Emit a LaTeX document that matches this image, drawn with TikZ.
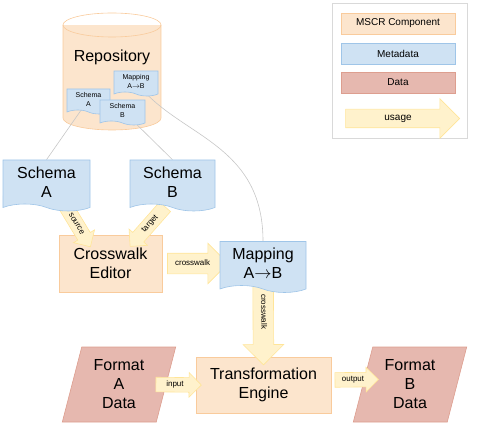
\documentclass[tikz,border=0pt]{standalone}
\usepackage{fontspec}
\setmainfont{Liberation Sans}
\usetikzlibrary{shapes.geometric,shapes.symbols,shapes.arrows,calc}

\definecolor{compfill}{HTML}{FCE5CD}
\definecolor{compdraw}{HTML}{F9CB9C}
\definecolor{metafill}{HTML}{CFE2F3}
\definecolor{metadraw}{HTML}{9FC5E8}
\definecolor{datafill}{HTML}{E6B8AF}
\definecolor{datadraw}{HTML}{DD9E8F}
\definecolor{usefill}{HTML}{FFF2CC}
\definecolor{usedraw}{HTML}{FFE599}

\pgfdeclarelayer{cyl}
\pgfdeclarelayer{links}
\pgfsetlayers{cyl,links,main}

\tikzset{
  comp/.style={rectangle, fill=compfill, draw=compdraw, line width=0.6pt},
  meta/.style={tape, tape bend top=none, tape bend bottom=out and in, fill=metafill, draw=metadraw, line width=0.6pt},
  data/.style={trapezium, trapezium left angle=75, trapezium right angle=105, trapezium stretches=true, fill=datafill, draw=datadraw, line width=0.6pt},
  big/.style={font=\fontsize{16}{19}\selectfont, align=center},
  mini/.style={meta, font=\fontsize{7}{8.5}\selectfont, align=center, minimum height=25pt, tape bend height=4pt, inner sep=1pt},
  legend/.style={rectangle, minimum width=114pt, minimum height=21pt, line width=0.6pt, font=\fontsize{10}{12}\selectfont},
  usage/.style={single arrow, fill=usefill, draw=usedraw, line width=0.6pt, font=\fontsize{8}{9}\selectfont, text height=6pt, text depth=2pt, inner xsep=0pt},
  bigarrow/.style={usage, inner ysep=6pt, single arrow head extend=10pt},
  smallarrow/.style={usage, inner ysep=3pt, single arrow head extend=5pt},
  link/.style={draw=black!22, line width=0.6pt}
}

% tail, tip, label
\newcommand{\blockarrow}[4]{%
  \path let \p1=#2, \p2=#3, \n1={atan2(\y2-\y1,\x2-\x1)}, \n2={veclen(\x2-\x1,\y2-\y1)} in
    node[#1, rotate=\n1, minimum height=\n2] at ($(\p1)!.5!(\p2)$) {#4};}

\begin{document}
\begin{tikzpicture}[x=1pt,y=-1pt]
  \useasboundingbox (0,0) rectangle (478,438);

  % repository
  \begin{pgfonlayer}{cyl}
    \fill[compfill] (63,25) rectangle (161,118);
    \fill[compfill] (112,118) ellipse [x radius=49, y radius=12];
    \draw[compdraw, line width=0.6pt] (63,25) -- (63,118) arc[start angle=180, end angle=0, x radius=49, y radius=12] -- (161,25);
    \draw[compdraw, line width=0.6pt] (112,25) ellipse [x radius=49, y radius=12];
  \end{pgfonlayer}
  \node[big] (repo) at (112,57) {Repository};

  \node[mini, minimum width=43pt] (miniA) at (88.5,99.5) {Schema\\A};
  \node[mini, minimum width=45pt] (miniB) at (122.5,110.5) {Schema\\B};
  \node[mini, minimum width=44pt] (miniM) at (136,81.5) {Mapping\\A$\rightarrow$B};

  % boxes
  \node[comp, big, minimum width=103pt, minimum height=57pt] (ce) at (110.5,263.5) {Crosswalk\\Editor};
  \node[comp, big, minimum width=135pt, minimum height=56pt] (te) at (263.5,385) {Transformation\\Engine};
  \node[data, big, minimum width=114pt, minimum height=75pt] (fa) at (119,384.5) {Format\\A\\Data};
  \node[data, big, minimum width=114pt, minimum height=75pt] (fb) at (410,384.5) {Format\\B\\Data};

  \coordinate (schApos) at (46.5,182);
  \coordinate (schBpos) at (172.5,182);
  \coordinate (mapMpos) at (263,263.5);

  % arrows
  \blockarrow{smallarrow}{($(schApos)+(18,22)$)}{($(ce.north)+(-22,9)$)}{source}
  \blockarrow{smallarrow, shape border rotate=180}{($(ce.north)+(22,9)$)}{($(schBpos)+(-5,22)$)}{target}
  \blockarrow{bigarrow}{(ce.east)}{($(mapMpos)+(-40,0)$)}{crosswalk}
  \blockarrow{bigarrow}{(mapMpos)}{($(te.north)+(0,3)$)}{crosswalk}
  \blockarrow{smallarrow}{($(fa.east)+(-14,0)$)}{($(te.west)+(2,0)$)}{input}
  \blockarrow{smallarrow}{($(te.east)+(0,-5)$)}{($(fb.west)+(12,-5)$)}{output}

  % documents
  \node[meta, big, minimum width=87pt, minimum height=51pt, tape bend height=7pt] (schA) at (schApos) {Schema\\A};
  \node[meta, big, minimum width=85pt, minimum height=51pt, tape bend height=7pt] (schB) at (schBpos) {Schema\\B};
  \node[meta, big, minimum width=86pt, minimum height=51pt, tape bend height=7pt] (mapM) at (mapMpos) {Mapping\\A$\rightarrow$B};

  \begin{pgfonlayer}{links}
    \draw[link] (miniA.center) -- (schA.north);
    \draw[link] (miniB.center) -- (schB.north);
    \draw[link] (miniM.center) .. controls +(40,55) and +(0,-100) .. (mapM.north);
  \end{pgfonlayer}

  % legend
  \draw[black!15, line width=0.6pt] (332,3) rectangle (467,138);
  \node[legend, fill=compfill, draw=compdraw] (lgComp) at (398,23.5) {MSCR Component};
  \node[legend, fill=metafill, draw=metadraw] (lgMeta) at (398,53.5) {Metadata};
  \node[legend, fill=datafill, draw=datadraw] (lgData) at (398,82.5) {Data};
  \node[usage, font=\fontsize{10}{12}\selectfont, text height=7pt, inner ysep=4.5pt, single arrow head extend=10.5pt, minimum height=114pt] (lgUsage) at (398,118.5) {usage};
\end{tikzpicture}
\end{document}
